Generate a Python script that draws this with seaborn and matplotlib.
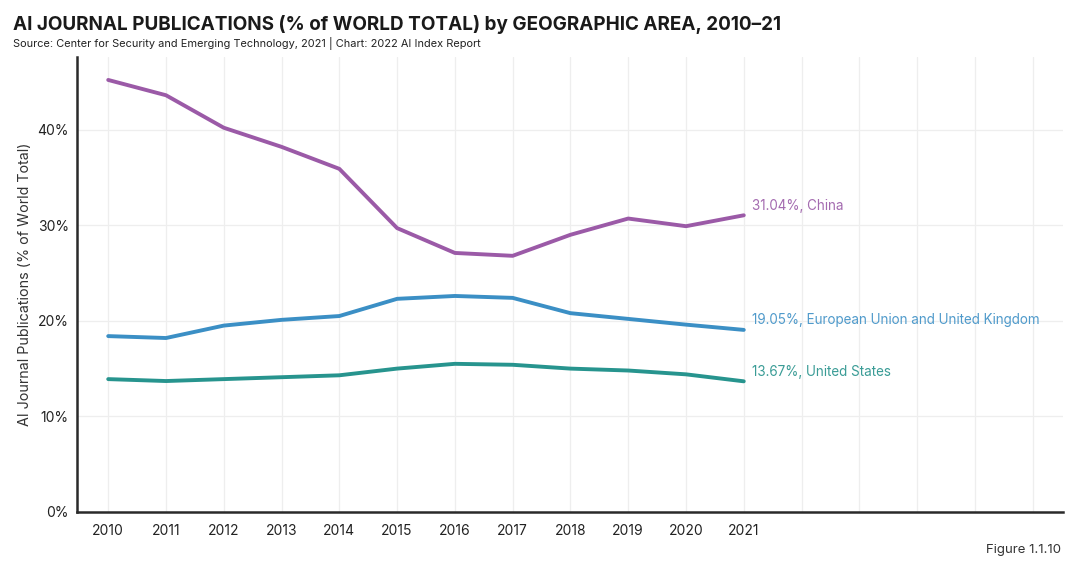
import pandas as pd
import matplotlib.pyplot as plt
import seaborn as sns

# data
years = list(range(2010, 2022))
china = [45.2, 43.6, 40.2, 38.2, 35.9, 29.7, 27.1, 26.8, 29.0, 30.7, 29.9, 31.04]
eu_uk = [18.4, 18.2, 19.5, 20.1, 20.5, 22.3, 22.6, 22.4, 20.8, 20.2, 19.6, 19.05]
usa = [13.9, 13.7, 13.9, 14.1, 14.3, 15.0, 15.5, 15.4, 15.0, 14.8, 14.4, 13.67]
regions = ["China", "European Union and United Kingdom", "United States"]
colors = {"China": "#9b5aa7", "European Union and United Kingdom": "#3b8fc5",
          "United States": "#27948e"}
label_colors = {"China": "#a46bb0", "European Union and United Kingdom": "#4f9acb",
                "United States": "#3a9c96"}

df = pd.DataFrame({
    "Year": years * 3,
    "Share": china + eu_uk + usa,
    "Region": [r for r in regions for _ in years],
})

sns.set_theme(style="whitegrid")
plt.rcParams["font.family"] = ["Inter", "DejaVu Sans"]

fig = plt.figure(figsize=(10.8, 5.73), dpi=100)
ax = fig.add_axes([0.0713, 0.1065, 0.9127, 0.794])

sns.lineplot(data=df, x="Year", y="Share", hue="Region", palette=colors,
             linewidth=2.8, legend=False, ax=ax)

for r in regions:
    last = df[df["Region"] == r].iloc[-1]
    ax.annotate(f"{last['Share']:.2f}%, {r}", (last["Year"], last["Share"]),
                xytext=(6, 7), textcoords="offset points", va="center",
                ha="left", fontsize=9.7, color=label_colors[r])

ax.set_xlim(2009.46, 2026.52)
ax.set_ylim(0, 47.6)
ax.set_xticks(list(range(2010, 2027)))
ax.set_xticklabels([str(y) if y <= 2021 else "" for y in range(2010, 2027)])
ax.set_yticks([0, 10, 20, 30, 40])
ax.set_yticklabels(["0%", "10%", "20%", "30%", "40%"])
ax.tick_params(axis="x", labelsize=10, colors="#222222", length=0, pad=9)
ax.tick_params(axis="y", labelsize=10, colors="#222222", length=0, pad=6)
ax.grid(color="#eeeeee", linewidth=0.9)
ax.set_xlabel("")
ax.set_ylabel("AI Journal Publications (% of World Total)", fontsize=10.3,
              color="#333333", labelpad=4)
for side in ["top", "right"]:
    ax.spines[side].set_visible(False)
for side in ["left", "bottom"]:
    ax.spines[side].set_color("#2a2a2a")
    ax.spines[side].set_linewidth(1.8)

fig.text(0.012, 0.958, "AI JOURNAL PUBLICATIONS (% of WORLD TOTAL) by GEOGRAPHIC AREA, 2010–21",
         fontsize=13.6, fontweight="bold", color="#1a1a1a", va="center")
fig.text(0.012, 0.924, "Source: Center for Security and Emerging Technology, 2021 | Chart: 2022 AI Index Report",
         fontsize=7.9, color="#222222", va="center")
fig.text(0.982, 0.04, "Figure 1.1.10", fontsize=9.5, color="#333333",
         ha="right", va="center")

fig.savefig("out.png", dpi=100)
